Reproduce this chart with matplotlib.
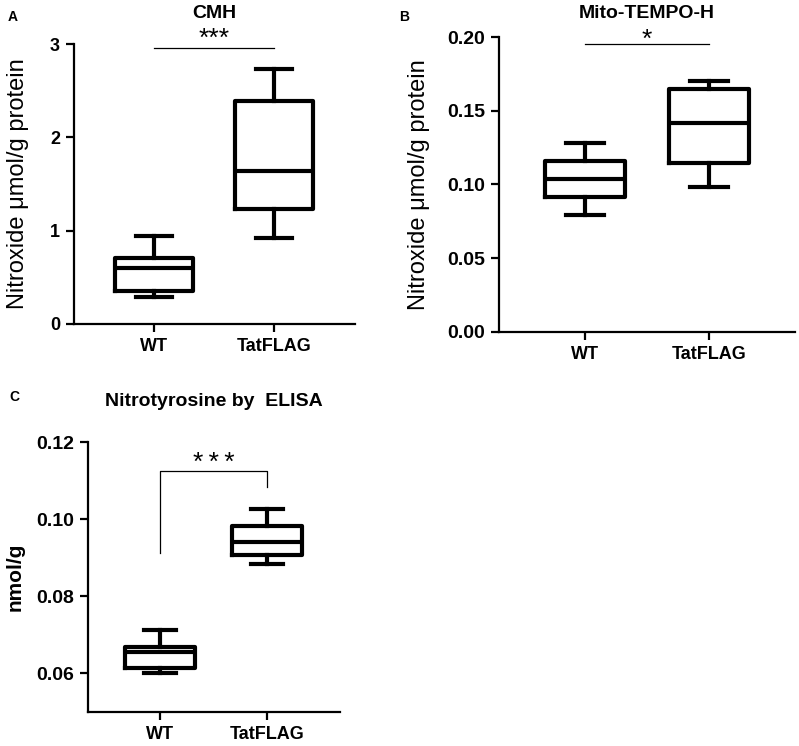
import matplotlib.pyplot as plt

plt.rcParams['font.family'] = ['Liberation Sans', 'DejaVu Sans']

groups = ["WT", "TatFLAG"]

# box stats: whislo, q1, med, q3, whishi
cmh_wt = [0.29, 0.35, 0.60, 0.71, 0.94]
cmh_tat = [0.92, 1.23, 1.635, 2.385, 2.735]
mito_wt = [0.079, 0.0913, 0.1037, 0.116, 0.128]
mito_tat = [0.098, 0.1148, 0.142, 0.1647, 0.1703]
ntyr_wt = [0.0600, 0.0614, 0.0655, 0.0668, 0.0713]
ntyr_tat = [0.0883, 0.0907, 0.0941, 0.0982, 0.1026]

cmh_ticks = [0, 1, 2, 3]
mito_ticks = [0.00, 0.05, 0.10, 0.15, 0.20]
ntyr_ticks = [0.06, 0.08, 0.10, 0.12]


def to_stats(vals, label):
    lo, q1, med, q3, hi = vals
    return dict(label=label, whislo=lo, q1=q1, med=med, q3=q3, whishi=hi, fliers=[])


def draw_box(ax, wt, tat, ticks, fmt, ylim, xlim, ysize=14):
    lw = 3.0
    props = dict(color="black", linewidth=lw)
    ax.bxp([to_stats(wt, groups[0]), to_stats(tat, groups[1])], positions=[0, 1],
           widths=0.65, showfliers=False, boxprops=props, medianprops=props,
           whiskerprops=props, capprops=props, capwidths=0.3)
    ax.set_xlim(*xlim)
    ax.set_ylim(*ylim)
    ax.set_yticks(ticks)
    ax.set_yticklabels([fmt % t for t in ticks], fontsize=ysize, fontweight="bold")
    ax.set_xticks([0, 1])
    ax.set_xticklabels(groups, fontsize=13, fontweight="bold")
    for s in ["top", "right"]:
        ax.spines[s].set_visible(False)
    for s in ["left", "bottom"]:
        ax.spines[s].set_linewidth(1.6)
    ax.tick_params(direction="out", length=6, width=1.6, pad=4)


fig = plt.figure(figsize=(7.99, 7.46), dpi=100)

# panel A
axA = fig.add_axes([0.0926, 0.5657, 0.3517, 0.3753])
draw_box(axA, cmh_wt, cmh_tat, cmh_ticks, "%d", (0, 3), (-0.667, 1.675), ysize=13)
axA.set_ylabel("Nitroxide \u03bcmol/g protein", fontsize=17, labelpad=15)
axA.set_title("CMH", fontsize=14, fontweight="bold", pad=19)
axA.plot([0, 1], [2.96, 2.96], color="black", lw=0.9, clip_on=False)
axA.text(0.5, 2.975, "***", ha="center", va="baseline", fontsize=19, clip_on=False)
fig.text(0.010, 0.972, "A", fontsize=10, fontweight="bold")

# panel B
axB = fig.add_axes([0.6245, 0.555, 0.3705, 0.3954])
draw_box(axB, mito_wt, mito_tat, mito_ticks, "%.2f", (0, 0.2), (-0.694, 1.694))
axB.set_ylabel("Nitroxide \u03bcmol/g protein", fontsize=17, labelpad=12)
axB.set_title("Mito-TEMPO-H", fontsize=14, fontweight="bold", pad=14)
axB.plot([0, 1], [0.1955, 0.1955], color="black", lw=0.9, clip_on=False)
axB.text(0.5, 0.193, "*", ha="center", va="baseline", fontsize=19, clip_on=False)
fig.text(0.500, 0.972, "B", fontsize=10, fontweight="bold")

# panel C
axC = fig.add_axes([0.110, 0.0456, 0.3155, 0.3619])
draw_box(axC, ntyr_wt, ntyr_tat, ntyr_ticks, "%.2f", (0.05, 0.12), (-0.673, 1.68))
axC.set_ylabel("nmol/g", fontsize=15, fontweight="bold", labelpad=8)
axC.set_title("Nitrotyrosine by  ELISA", fontsize=14, fontweight="bold", pad=26)
axC.plot([0, 0, 1, 1], [0.0911, 0.1126, 0.1126, 0.1083], color="black", lw=0.9)
axC.text(0.5, 0.1128, "*\u2009*\u2009*", ha="center", va="baseline", fontsize=19,
         clip_on=False)
fig.text(0.012, 0.462, "C", fontsize=10, fontweight="bold")

fig.savefig("out.png", dpi=100)
